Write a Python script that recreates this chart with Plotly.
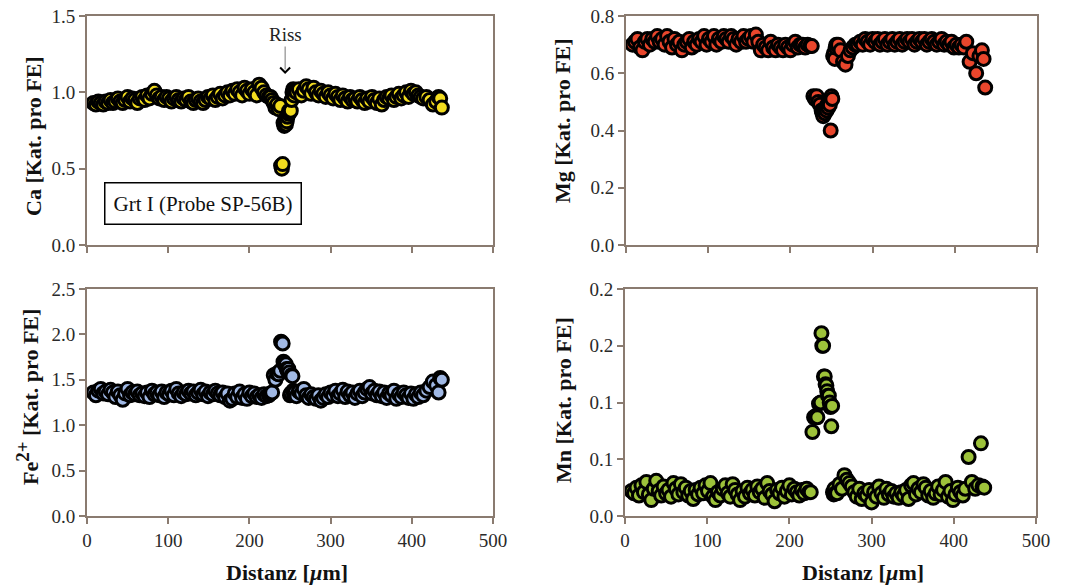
import plotly.graph_objects as go

# Profile across garnet Grt I (sample SP-56B): cations per formula unit vs. distance
distanz = [
    8, 11, 14, 17, 20, 23, 26, 29, 32, 35,
    38, 41, 44, 47, 50, 53, 56, 59, 62, 65,
    68, 71, 74, 77, 80, 83, 86, 89, 92, 95,
    98, 101, 104, 107, 110, 113, 116, 119, 122, 125,
    128, 131, 134, 137, 140, 143, 146, 149, 152, 155,
    158, 161, 164, 167, 170, 173, 176, 179, 182, 185,
    188, 191, 194, 197, 200, 203, 206, 209, 212, 215,
    218, 221, 224,
    # crack zone
    226, 228, 230, 232, 234, 236, 238, 239, 240, 241,
    242, 243, 244, 245, 246, 247, 248, 249, 250, 251,
    252, 253, 254, 255, 256,
    258, 261, 264, 267, 270, 273, 276, 279, 282, 285,
    288, 291, 294, 297, 300, 303, 306, 309, 312, 315,
    318, 321, 324, 327, 330, 333, 336, 339, 342, 345,
    348, 351, 354, 357, 360, 363, 366, 369, 372, 375,
    378, 381, 384, 387, 390, 393, 396, 399, 402, 405,
    408, 411, 414,
    # rim
    418, 422, 426, 430, 433, 435, 437,
]

ca = [
    0.93, 0.92, 0.94, 0.93, 0.92, 0.94, 0.93, 0.95, 0.93, 0.94,
    0.96, 0.94, 0.93, 0.95, 0.97, 0.94, 0.96, 0.95, 0.93, 0.96,
    0.97, 0.95, 0.98, 0.96, 0.99, 1.01, 0.98, 0.96, 0.97, 0.95,
    0.97, 0.96, 0.94, 0.96, 0.97, 0.95, 0.94, 0.96, 0.95, 0.97,
    0.94, 0.93, 0.95, 0.96, 0.94, 0.93, 0.95, 0.97, 0.96, 0.98,
    0.95, 0.97, 0.99, 0.96, 0.98, 1.00, 0.98, 1.01, 0.99, 1.02,
    1.00, 0.98, 1.03, 1.01, 0.99, 1.02, 1.00, 0.98, 1.05, 1.03,
    1.00, 0.98, 0.97,
    0.97, 0.95, 0.93, 0.90, 0.92, 0.89, 0.91, 0.52, 0.50, 0.53,
    0.80, 0.78, 0.82, 0.79, 0.81, 0.84, 0.86, 0.88, 0.87, 0.88,
    0.95, 1.00, 1.02, 0.98, 1.01,
    1.00, 1.02, 0.98, 1.01, 1.04, 1.02, 0.99, 1.03, 1.00, 0.98,
    1.01, 0.99, 0.97, 1.00, 0.98, 0.96, 0.99, 0.97, 0.95, 0.98,
    0.96, 0.94, 0.97, 0.95, 0.96, 0.94, 0.97, 0.95, 0.93, 0.96,
    0.94, 0.97, 0.95, 0.93, 0.96, 0.92, 0.95, 0.97, 0.96, 0.98,
    0.95, 0.97, 0.99, 0.96, 0.98, 1.00, 0.97, 1.01, 0.99, 1.00,
    0.98, 0.97, 0.96,
    0.97, 0.95, 0.92, 0.94, 0.97, 0.96, 0.90,
]

mg = [
    0.70, 0.71, 0.72, 0.69, 0.68, 0.71, 0.72, 0.70, 0.72, 0.71,
    0.73, 0.71, 0.72, 0.70, 0.73, 0.71, 0.69, 0.72, 0.70, 0.71,
    0.68, 0.70, 0.71, 0.72, 0.69, 0.71, 0.70, 0.72, 0.71, 0.73,
    0.70, 0.72, 0.71, 0.73, 0.70, 0.72, 0.71, 0.73, 0.72, 0.71,
    0.73, 0.72, 0.70, 0.72, 0.71, 0.73, 0.71, 0.72, 0.73, 0.71,
    0.735, 0.71, 0.68, 0.70, 0.69, 0.68, 0.71, 0.69, 0.68, 0.70,
    0.69, 0.68, 0.70, 0.69, 0.68, 0.70, 0.71, 0.69, 0.70, 0.70,
    0.69, 0.70, 0.695,
    0.695, 0.52, 0.51, 0.52, 0.50, 0.49, 0.47, 0.46, 0.45, 0.47,
    0.46, 0.48, 0.47, 0.49, 0.48, 0.50, 0.49, 0.40, 0.52, 0.51,
    0.66, 0.67, 0.65, 0.69, 0.70,
    0.70, 0.68, 0.64, 0.63, 0.66, 0.68, 0.69, 0.70, 0.70, 0.71,
    0.70, 0.72, 0.71, 0.70, 0.72, 0.71, 0.72, 0.70, 0.71, 0.72,
    0.70, 0.71, 0.72, 0.70, 0.71, 0.72, 0.70, 0.71, 0.72, 0.71,
    0.72, 0.70, 0.71, 0.72, 0.71, 0.72, 0.70, 0.71, 0.72, 0.71,
    0.70, 0.71, 0.72, 0.70, 0.71, 0.70, 0.71, 0.69, 0.70, 0.69,
    0.70, 0.69, 0.71,
    0.64, 0.67, 0.60, 0.66, 0.68, 0.65, 0.55,
]

fe = [
    1.36, 1.33, 1.38, 1.40, 1.35, 1.37, 1.34, 1.39, 1.36, 1.31,
    1.37, 1.33, 1.28, 1.35, 1.40, 1.33, 1.36, 1.34, 1.37, 1.33,
    1.35, 1.32, 1.36, 1.31, 1.38, 1.34, 1.36, 1.33, 1.37, 1.31,
    1.36, 1.34, 1.38, 1.33, 1.40, 1.35, 1.32, 1.36, 1.34, 1.38,
    1.35, 1.37, 1.33, 1.36, 1.39, 1.34, 1.37, 1.32, 1.36, 1.34,
    1.38, 1.35, 1.33, 1.36, 1.31, 1.35, 1.27, 1.29, 1.35, 1.31,
    1.37, 1.30, 1.34, 1.29, 1.36, 1.32, 1.35, 1.31, 1.33, 1.30,
    1.34, 1.32, 1.33,
    1.35, 1.36, 1.55, 1.50, 1.57, 1.56, 1.60, 1.92, 1.91, 1.90,
    1.70, 1.68, 1.66, 1.67, 1.62, 1.60, 1.62, 1.58, 1.33, 1.35,
    1.55, 1.54, 1.38, 1.33, 1.36,
    1.32, 1.37, 1.35, 1.40, 1.33, 1.30, 1.34, 1.31, 1.29, 1.33,
    1.27, 1.30, 1.34, 1.31, 1.36, 1.33, 1.38, 1.32, 1.35, 1.39,
    1.31, 1.37, 1.33, 1.36, 1.30, 1.35, 1.38, 1.32, 1.36, 1.40,
    1.42, 1.35, 1.38, 1.33, 1.37, 1.32, 1.36, 1.30, 1.35, 1.33,
    1.38, 1.29, 1.34, 1.31, 1.36, 1.33, 1.30, 1.35, 1.29, 1.34,
    1.31, 1.36, 1.33,
    1.38, 1.42, 1.48, 1.44, 1.36, 1.52, 1.50,
]

mn = [
    0.022, 0.020, 0.025, 0.018, 0.027, 0.021, 0.030, 0.019, 0.014, 0.024,
    0.031, 0.022, 0.018, 0.026, 0.020, 0.023, 0.017, 0.029, 0.024, 0.019,
    0.028, 0.021, 0.025, 0.018, 0.022, 0.015, 0.023, 0.019, 0.025, 0.020,
    0.027, 0.022, 0.029, 0.017, 0.014, 0.021, 0.018, 0.024, 0.027, 0.020,
    0.017, 0.028, 0.023, 0.019, 0.014, 0.022, 0.017, 0.025, 0.020, 0.023,
    0.018, 0.026, 0.021, 0.024, 0.016, 0.029, 0.022, 0.019, 0.013, 0.023,
    0.020, 0.025, 0.017, 0.022, 0.027, 0.019, 0.024, 0.021, 0.018, 0.023,
    0.020, 0.024, 0.021,
    0.021, 0.074, 0.087, 0.088, 0.087, 0.099, 0.100, 0.161, 0.150, 0.150,
    0.123, 0.123, 0.116, 0.115, 0.110, 0.106, 0.106, 0.100, 0.096, 0.079,
    0.097, 0.021, 0.019, 0.024, 0.020,
    0.020, 0.028, 0.024, 0.036, 0.032, 0.029, 0.026, 0.021, 0.017, 0.024,
    0.015, 0.020, 0.018, 0.023, 0.012, 0.021, 0.017, 0.026, 0.020, 0.016,
    0.024, 0.019, 0.022, 0.017, 0.020, 0.016, 0.021, 0.018, 0.023, 0.015,
    0.027, 0.029, 0.019, 0.024, 0.021, 0.028, 0.025, 0.018, 0.022, 0.016,
    0.020, 0.026, 0.019, 0.023, 0.030, 0.017, 0.022, 0.014, 0.019, 0.025,
    0.021, 0.018, 0.024,
    0.052, 0.030, 0.024, 0.027, 0.064, 0.026, 0.025,
]

for series in (ca, mg, fe, mn):
    assert len(series) == len(distanz)

x_ticks = [0, 100, 200, 300, 400, 500]
ca_ticks = [0.0, 0.5, 1.0, 1.5]
mg_ticks = [0.0, 0.2, 0.4, 0.6, 0.8]
fe_ticks = [0.0, 0.5, 1.0, 1.5, 2.0, 2.5]
mn_ticks = [0.0, 0.05, 0.10, 0.15, 0.20]
mn_ticktext = ["0.0", "0.1", "0.1", "0.2", "0.2"]

SERIF = "Liberation Serif, Times New Roman, serif"
FRAME = "#8a7b70"
W, H = 1069, 588

panels = [
    # (values, fill colour, axis suffix, px-left, px-right, px-top, px-bottom)
    (ca, "#f2dc1f", "", 87, 493, 16, 245),
    (mg, "#e9462c", "2", 626, 1037, 16, 245),
    (fe, "#a0b8e4", "3", 87, 493, 289, 516),
    (mn, "#9dc23a", "4", 625, 1036, 289, 516),
]

fig = go.Figure()
layout = dict(
    width=W, height=H,
    margin=dict(l=0, r=0, t=0, b=0, autoexpand=False),
    paper_bgcolor="white", plot_bgcolor="white",
    showlegend=False,
    font=dict(family=SERIF, size=19, color="#222"),
)

y_specs = {
    "": (ca_ticks, [f"{v:.1f}" for v in ca_ticks], [0, 1.5]),
    "2": (mg_ticks, [f"{v:.1f}" for v in mg_ticks], [0, 0.8]),
    "3": (fe_ticks, [f"{v:.1f}" for v in fe_ticks], [0, 2.5]),
    "4": (mn_ticks, mn_ticktext, [0, 0.2]),
}

tick_font = dict(family=SERIF, size=19, color="#2a2a2a")
for vals, colour, sfx, l, r, t, b in panels:
    fig.add_trace(go.Scatter(
        x=distanz, y=vals, mode="markers",
        xaxis="x" + sfx, yaxis="y" + sfx,
        marker=dict(size=13, color=colour, line=dict(color="black", width=3)),
        hoverinfo="skip",
    ))
    bottom_row = sfx in ("3", "4")
    layout["xaxis" + sfx] = dict(
        domain=[l / W, r / W], anchor="y" + sfx, range=[0, 500],
        tickvals=x_ticks, showticklabels=bottom_row, automargin=False,
        ticks="outside", ticklen=6, tickcolor=FRAME, tickwidth=1.5,
        showline=True, linecolor=FRAME, linewidth=2, mirror=True,
        showgrid=False, zeroline=False, tickfont=tick_font,
    )
    tv, tt, rng = y_specs[sfx]
    layout["yaxis" + sfx] = dict(
        domain=[1 - b / H, 1 - t / H], anchor="x" + sfx, range=rng,
        tickvals=tv, ticktext=tt, automargin=False,
        ticks="outside", ticklen=6, tickcolor=FRAME, tickwidth=1.5,
        showline=True, linecolor=FRAME, linewidth=2, mirror=True,
        showgrid=False, zeroline=False, tickfont=tick_font,
    )

fig.update_layout(**layout)

title_font = dict(family=SERIF, size=22, color="#111")
annotations = [
    dict(text="<b>Ca [Kat. pro FE]</b>", x=33 / W, y=1 - 136 / H, textangle=-90),
    dict(text="<b>Mg [Kat. pro FE]</b>", x=562 / W, y=1 - 121 / H, textangle=-90),
    dict(text='<b>Fe<sup><span style="font-size:19px">2+</span></sup> [Kat. pro FE]</b>',
         x=27 / W, y=1 - 397 / H, textangle=-90),
    dict(text="<b>Mn [Kat. pro FE]</b>", x=563 / W, y=1 - 400 / H, textangle=-90),
    dict(text="<b>Distanz [<i>µ</i>m]</b>", x=287 / W, y=1 - 572 / H, textangle=0),
    dict(text="<b>Distanz [<i>µ</i>m]</b>", x=863 / W, y=1 - 572 / H, textangle=0),
]
for a in annotations:
    fig.add_annotation(xref="paper", yref="paper", showarrow=False,
                       xanchor="center", yanchor="middle", font=title_font, **a)

# Sample label box
fig.add_annotation(
    text="Grt I (Probe SP-56B)", x=143, y=0.27, xref="x", yref="y",
    showarrow=False, font=dict(family=SERIF, size=21, color="#111"),
    bordercolor="black", borderwidth=1.5, borderpad=8, bgcolor="white",
)

# Crack marker: label, thin leader line and open chevron
riss_x = 244
fig.add_annotation(
    text="Riss", x=riss_x, y=1.38, xref="x", yref="y", showarrow=False,
    font=dict(family=SERIF, size=19, color="#222"),
)
fig.add_shape(type="line", xref="x", yref="y", x0=riss_x, x1=riss_x, y0=1.30, y1=1.15,
              line=dict(color="#777", width=1))
fig.add_shape(type="path", xref="x", yref="y", xsizemode="pixel", ysizemode="pixel",
              xanchor=riss_x, yanchor=1.13, path="M -5,5 L 0,0 L 5,5",
              line=dict(color="black", width=2))

fig.write_html("out.html")
